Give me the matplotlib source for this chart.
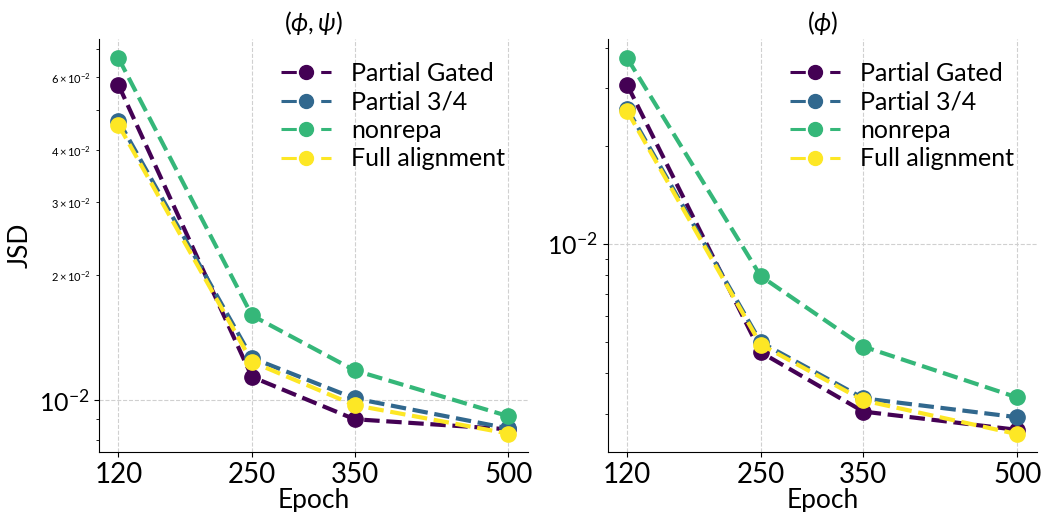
import matplotlib
matplotlib.use('Agg')
import matplotlib.pyplot as plt
from matplotlib.lines import Line2D

plt.rcParams['font.family'] = ['Lato', 'DejaVu Sans']
plt.rcParams['mathtext.fontset'] = 'custom'
plt.rcParams['mathtext.rm'] = 'Lato'
plt.rcParams['mathtext.it'] = 'Lato:italic'
plt.rcParams['mathtext.bf'] = 'Lato:bold'

epochs = [120, 250, 350, 500]
methods = ['Partial Gated', 'Partial 3/4', 'nonrepa', 'Full alignment']
colors = ['#440154', '#31688e', '#35b779', '#fde725']

# JSD for (phi, psi)
jsd_phipsi = {
    'Partial Gated': [0.0574, 0.01138, 0.0090, 0.00851],
    'Partial 3/4': [0.0471, 0.01264, 0.0101, 0.00855],
    'nonrepa': [0.0666, 0.0160, 0.0118, 0.00915],
    'Full alignment': [0.0460, 0.01237, 0.00973, 0.00831],
}
# JSD for (phi)
jsd_phi = {
    'Partial Gated': [0.0307, 0.00464, 0.00305, 0.00268],
    'Partial 3/4': [0.0260, 0.00498, 0.00335, 0.00293],
    'nonrepa': [0.0371, 0.00795, 0.00483, 0.00337],
    'Full alignment': [0.0255, 0.00490, 0.00330, 0.00260],
}

titles = [r'$(\phi, \psi)$', r'$(\phi)$']
ylims = [(0.0075, 0.0739), (0.00229, 0.0424)]

fig, axes = plt.subplots(1, 2, figsize=(10.42, 5.12), dpi=100)
fig.subplots_adjust(left=0.095, right=0.995, top=0.923, bottom=0.117, wspace=0.186)

# legend handles are a bit thinner than the plotted lines
handles = [Line2D([], [], color=c, lw=2.2, dashes=(5, 8), marker='o', markersize=10)
           for c in colors]

for ax, data, title, ylim in zip(axes, [jsd_phipsi, jsd_phi], titles, ylims):
    for name, c in zip(methods, colors):
        ax.plot(epochs, data[name], '--o', color=c, lw=3, markersize=11, label=name)
    ax.set_yscale('log')
    ax.set_ylim(*ylim)
    ax.set_xticks(epochs)
    ax.set_xticklabels([str(e) for e in epochs])
    ax.set_title(title, fontsize=18)
    ax.set_xlabel('Epoch', fontsize=19, labelpad=0)
    ax.tick_params(axis='x', which='major', labelsize=20)
    ax.tick_params(axis='y', which='major', labelsize=18)
    ax.tick_params(axis='y', which='minor', labelsize=8)
    ax.grid(True, which='major', linestyle='--', color='#d0d0d0', linewidth=0.8)
    ax.spines['top'].set_visible(False)
    ax.spines['right'].set_visible(False)
    ax.legend(handles, methods, loc='upper right', frameon=False, fontsize=18,
              labelspacing=0.22)

axes[0].set_ylabel('JSD', fontsize=19)

plt.savefig('out.png', dpi=100)
